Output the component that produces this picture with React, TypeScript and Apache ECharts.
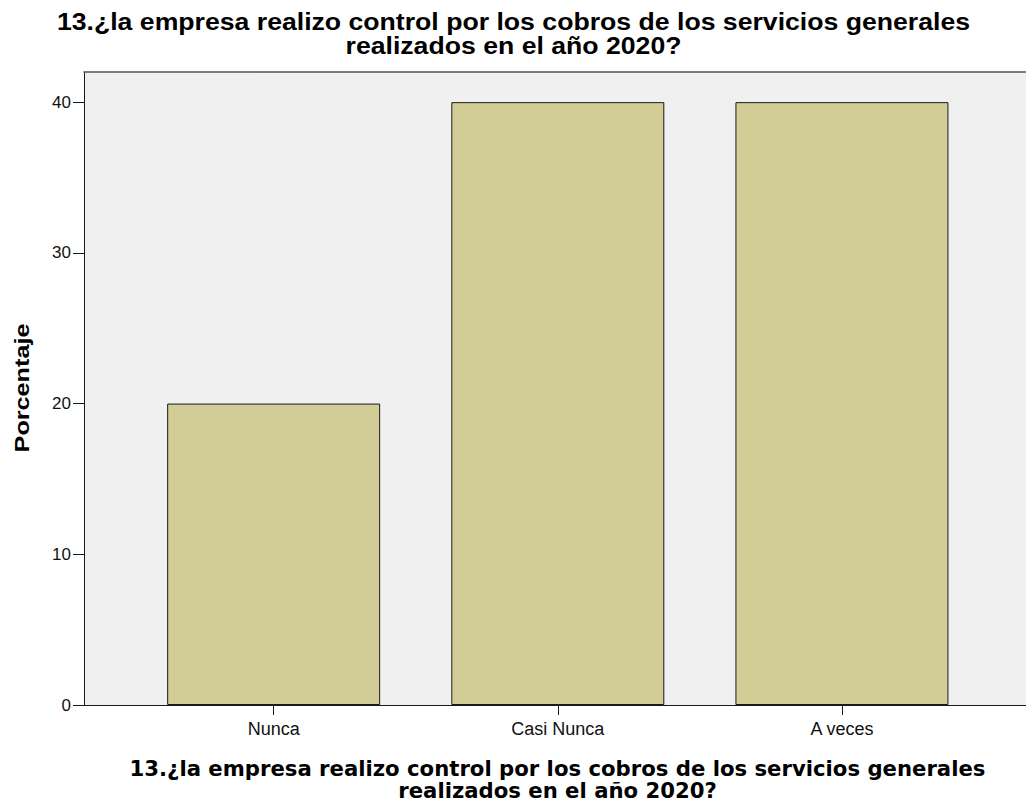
import React, { useEffect, useRef } from "react";
import * as echarts from "echarts";

const categories = ["Nunca", "Casi Nunca", "A veces"];
const percentages = [20, 40, 40];
const yTickValues = [0, 10, 20, 30, 40];
const yMax = 42;
const titleLines = [
  "13.¿la empresa realizo control por los cobros de los servicios generales",
  "realizados en el año 2020?",
];
const yAxisTitle = "Porcentaje";

export default function App() {
  const ref = useRef<HTMLDivElement>(null);
  useEffect(() => {
    if (!ref.current) return;
    const chart = echarts.init(ref.current, undefined, { renderer: "svg" });
    const gridTop = 72;
    const gridBottom = 102;
    const topTitleStyle = {
      fontFamily: "Liberation Sans",
      fontWeight: "bold",
      fontSize: 24,
      fill: "#000000",
      align: "center",
      verticalAlign: "middle",
    };
    const bottomTitleStyle = {
      fontFamily: "DejaVu Sans",
      fontWeight: "bold",
      fontSize: 21.2,
      fill: "#000000",
      align: "center",
      verticalAlign: "middle",
    };
    const option: any = {
      animation: false,
      backgroundColor: "#ffffff",
      grid: [
        {
          left: 84,
          right: -2,
          top: gridTop,
          bottom: gridBottom,
          show: true,
          backgroundColor: "#f0f0f0",
          borderWidth: 0,
        },
        {
          left: 131.6,
          right: 42,
          top: gridTop,
          bottom: gridBottom,
        },
      ],
      xAxis: [
        {
          gridIndex: 0,
          type: "value",
          min: 0,
          max: 1,
          axisLine: { show: true, lineStyle: { color: "#1a1a1a", width: 1 } },
          axisTick: { show: false },
          axisLabel: { show: false },
          splitLine: { show: false },
        },
        {
          gridIndex: 0,
          type: "value",
          position: "top",
          min: 0,
          max: 1,
          axisLine: { show: true, lineStyle: { color: "#555555", width: 1.5 } },
          axisTick: { show: false },
          axisLabel: { show: false },
          splitLine: { show: false },
        },
        {
          gridIndex: 1,
          type: "category",
          data: categories,
          axisLine: { show: false },
          axisTick: {
            show: true,
            alignWithLabel: true,
            length: 10,
            lineStyle: { color: "#1a1a1a" },
          },
          axisLabel: {
            color: "#111111",
            fontFamily: "Liberation Sans",
            fontSize: 18,
            margin: 15,
          },
        },
      ],
      yAxis: [
        {
          gridIndex: 0,
          type: "value",
          min: 0,
          max: yMax,
          axisLine: { show: true, lineStyle: { color: "#1a1a1a", width: 1 } },
          axisTick: {
            show: true,
            length: 11,
            customValues: yTickValues,
            lineStyle: { color: "#1a1a1a" },
          },
          axisLabel: {
            color: "#111111",
            fontFamily: "Liberation Sans",
            fontSize: 17,
            margin: 13,
            customValues: yTickValues,
          },
          splitLine: { show: false },
        },
        {
          gridIndex: 1,
          type: "value",
          min: 0,
          max: yMax,
          show: false,
          splitLine: { show: false },
        },
      ],
      series: [
        {
          type: "bar",
          xAxisIndex: 2,
          yAxisIndex: 1,
          data: percentages,
          barWidth: 213,
          itemStyle: {
            color: "#d2cd97",
            borderColor: "#1a1a1a",
            borderWidth: 1,
          },
        },
      ],
      graphic: [
        {
          type: "text",
          x: 513.5,
          y: 21,
          scaleX: 1.11,
          style: { ...topTitleStyle, text: titleLines[0] },
        },
        {
          type: "text",
          x: 513.5,
          y: 45,
          scaleX: 1.11,
          style: { ...topTitleStyle, text: titleLines[1] },
        },
        {
          type: "text",
          x: 557.5,
          y: 768,
          scaleY: 1.03,
          style: { ...bottomTitleStyle, text: titleLines[0] },
        },
        {
          type: "text",
          x: 557.5,
          y: 790,
          scaleY: 1.03,
          style: { ...bottomTitleStyle, text: titleLines[1] },
        },
        {
          type: "text",
          x: 22,
          y: 388,
          rotation: Math.PI / 2,
          scaleX: 1.2,
          style: {
            text: yAxisTitle,
            fontFamily: "Liberation Sans",
            fontWeight: "bold",
            fontSize: 21,
            fill: "#000000",
            align: "center",
            verticalAlign: "middle",
          },
        },
      ],
    };
    chart.setOption(option);
    return () => chart.dispose();
  }, []);
  return (
    <div
      ref={ref}
      style={{
        position: "absolute",
        left: 0,
        top: 0,
        width: 1026,
        height: 807,
        background: "#ffffff",
      }}
    />
  );
}
